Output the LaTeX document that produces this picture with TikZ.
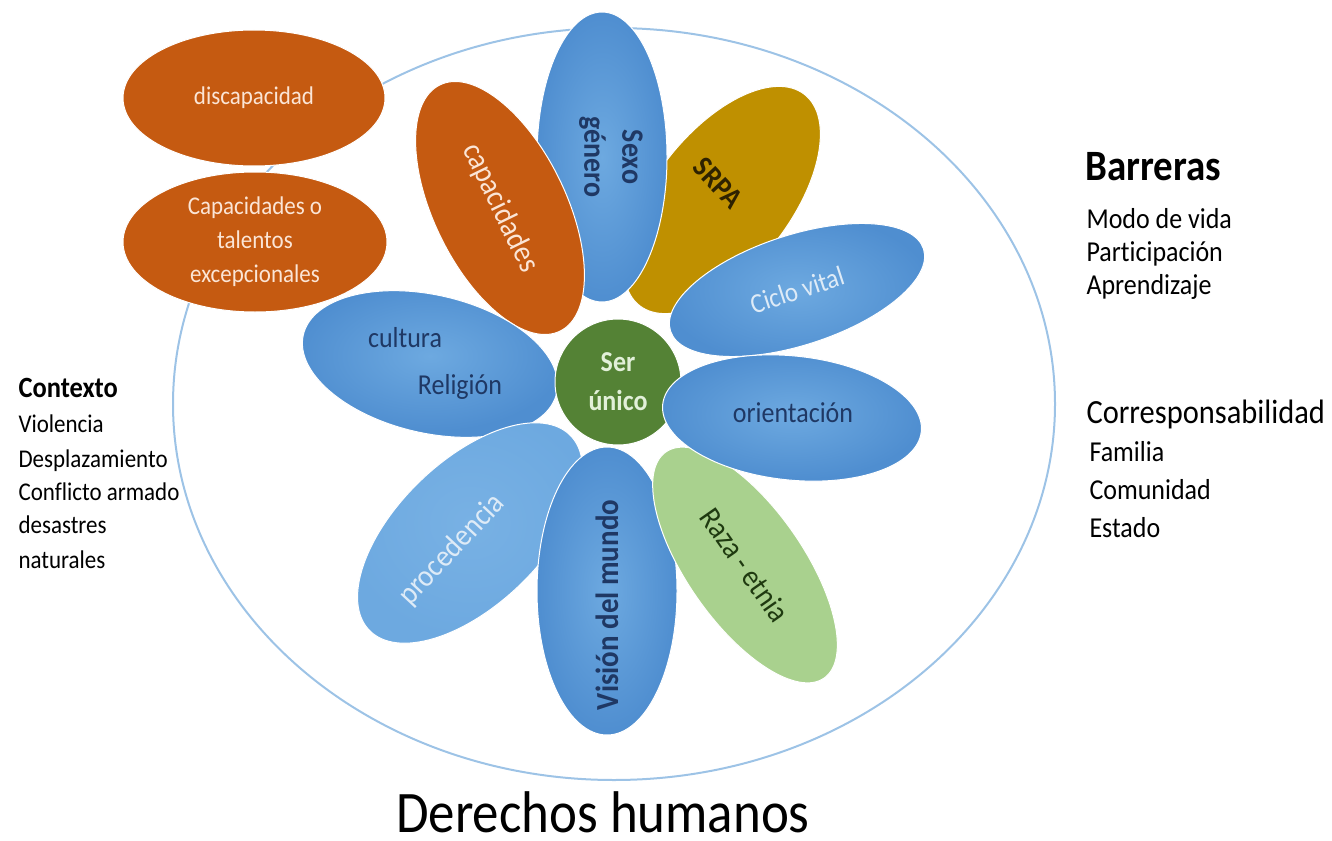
\documentclass[tikz,border=0pt]{standalone}
\usepackage{fontspec}
\setmainfont{Carlito}[FakeStretch=0.9, Ligatures=NoCommon]
\usetikzlibrary{shapes.geometric}

\definecolor{petallight}{HTML}{6DA9E0}
\definecolor{petaldark}{HTML}{4F8ED0}
\definecolor{petalpale}{HTML}{78B1E4}
\definecolor{petalorange}{HTML}{C55A11}
\definecolor{petalgold}{HTML}{BF9000}
\definecolor{petalgreen}{HTML}{A9D18E}
\definecolor{coregreen}{HTML}{548235}
\definecolor{navytext}{HTML}{1F3864}
\definecolor{palelight}{HTML}{DEEBF7}
\definecolor{peach}{HTML}{FBE5D6}
\definecolor{srpatext}{HTML}{2E2200}
\definecolor{razatext}{HTML}{1F3A10}
\definecolor{coretext}{HTML}{E2F0D9}
\definecolor{ringblue}{HTML}{9DC3E6}

% size given as the width-matching size; letters are drawn a bit taller
\newcommand{\fs}[1]{\fontsize{\fpeval{1.11*#1}}{\fpeval{1.11*#1}}\selectfont}
\newcommand{\fsl}[2]{\fontsize{\fpeval{1.11*#1}}{#2}\selectfont}

\begin{document}
\begin{tikzpicture}
        [
        x=1pt, y=-1pt,
        petal/.style={ellipse, draw=white, line width=1pt, inner sep=0pt},
        bluepetal/.style={petal, inner color=petallight, outer color=petaldark},
        orangepetal/.style={petal, fill=petalorange, text=peach},
        listline/.style={anchor=base west, font=\fs{26}},
        ctxline/.style={anchor=base west, font=\fs{23}}
        ]

        \useasboundingbox (0,0) rectangle (1332,840);

        % outer ring
        \draw[ringblue, line width=2pt] (614,404) ellipse [x radius=441, y radius=376];

        % left petals
        \node[orangepetal, minimum width=262, minimum height=136, font=\fs{23}] (disc) at (254,98) {discapacidad};
        \node[orangepetal, minimum width=264, minimum height=140, align=center, font=\fsl{23}{34}] (talent) at (255,242) {Capacidades o\\talentos\\excepcionales};

        % flower
        \node[petal, fill=petalgold, minimum width=136, minimum height=268, rotate=-38] (srpa) at (722,200) {};
        \node[text=srpatext, font=\bfseries\fs{27}, rotate=-47] (srpalab) at (718,183) {SRPA};

        \node[bluepetal, minimum width=290, minimum height=130, rotate=-90] (sexo) at (602,157) {};
        \node[text=navytext, align=center, rotate=-90, font=\bfseries\fsl{28}{38}] (sexolab) at (611,157) {Sexo\\género};

        \node[orangepetal, minimum width=274, minimum height=132, rotate=-64, font=\fs{28}] (capac) at (500,208) {capacidades};

        \node[bluepetal, minimum width=266, minimum height=110, rotate=18, text=palelight, font=\fs{25}] (ciclo) at (797,290) {Ciclo vital};

        \node[bluepetal, minimum width=260, minimum height=138, rotate=-13] (cult) at (430,364) {};
        \node[text=navytext, font=\fs{26}] (cultlab) at (405,338) {cultura};
        \node[text=navytext, font=\fs{26}] (religlab) at (460,387) {Religión};

        \node[petal, inner color=petalpale, outer color=petallight, minimum width=280, minimum height=144, rotate=44] (proced) at (470,533) {};
        \node[text=palelight, font=\fs{28}, rotate=47] (procedlab) at (452,550) {procedencia};

        \node[bluepetal, minimum width=288, minimum height=140, rotate=90] (vision) at (607,591) {};
        \node[text=navytext, font=\bfseries\fs{29}, rotate=90] (visionlab) at (607,605) {Visión del mundo};

        \node[petal, fill=petalgreen, minimum width=276, minimum height=116, rotate=-55, text=razatext, font=\fs{28}] (raza) at (745,565) {Raza - etnia};

        \node[circle, fill=coregreen, draw=white, line width=1pt, minimum size=126, text=coretext, align=center, font=\bfseries\fsl{26}{39}] (core) at (618,382) {Ser\\único};

        \node[bluepetal, minimum width=260, minimum height=124, rotate=-6] (orient) at (792,418) {};
        \node[text=navytext, font=\fs{26}] (orientlab) at (793,413) {orientación};

        % side texts
        \node[anchor=base west, font=\bfseries\fs{39}] (barr) at (1082,180) {Barreras};
        \node[listline] (modo) at (1083,228) {Modo de vida};
        \node[listline] (partic) at (1083,261) {Part\kern0pt icipación};
        \node[listline] (aprend) at (1083,294) {Aprendizaje};

        \node[anchor=base west, font=\fs{30.5}] (corresp) at (1083,423) {Corresponsabilidad};
        \node[listline] (familia) at (1086,461) {Familia};
        \node[listline] (comun) at (1086,499) {Comunidad};
        \node[listline] (estado) at (1086,537) {Estado};

        \node[anchor=base west, font=\bfseries\fs{26.5}] (ctx) at (15,397) {Contexto};
        \node[ctxline] (viol) at (15,432) {Violencia};
        \node[ctxline] (despl) at (15,467) {Desplazamiento};
        \node[ctxline] (confl) at (15,500) {Conflicto armado};
        \node[ctxline] (desas) at (15,533) {desastres};
        \node[ctxline] (natur) at (15,568) {naturales};

        \node[anchor=base, inner sep=0pt, font=\fs{53}] (ddhh) at (603,832) {Derechos humanos};

    \end{tikzpicture}
\end{document}
